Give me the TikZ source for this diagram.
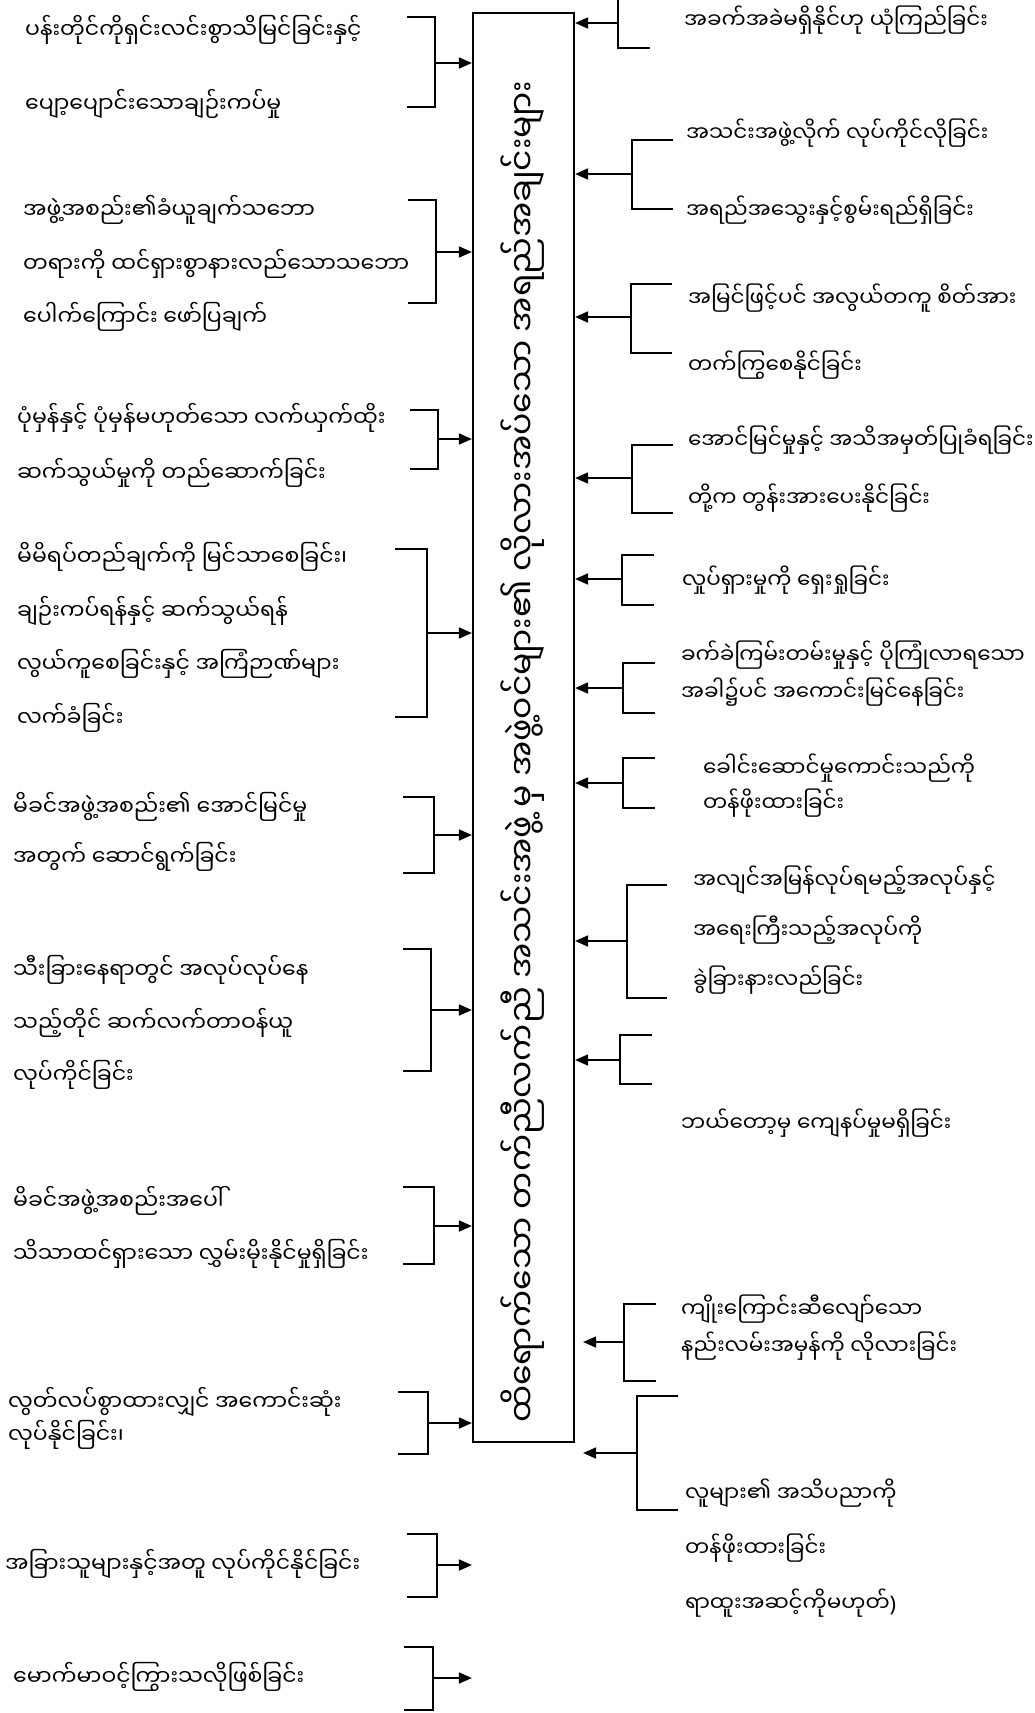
\documentclass[tikz,border=0pt]{standalone}
\usepackage{fontspec}
\newfontfamily\my[Script=Myanmar]{Noto Sans Myanmar UI}
\newfontfamily\lat{Noto Sans}
\usetikzlibrary{arrows.meta}
\tikzset{
  txt/.style={anchor=west, align=left, inner sep=0pt, font=\my\fontsize{22}{#1}\selectfont},
  rtxt/.style={anchor=west, align=left, inner sep=0pt, font=\my\fontsize{21.5}{#1}\selectfont},
  brk/.style={line width=1.8pt},
  arr/.style={line width=1.8pt, -{Triangle[length=13pt,width=11pt]}},
  titlebox/.style={draw, line width=2.2pt, minimum width=101pt, minimum height=1429pt, inner sep=0pt},
  titletxt/.style={rotate=90, inner sep=0pt, font=\my\fontsize{33}{38}\selectfont},
}
\begin{document}
\begin{tikzpicture}[x=1pt,y=-1pt]
\useasboundingbox (0,0) rectangle (1034,1713);
\clip (0,0) rectangle (1034,1713);
\fill[white] (0,0) rectangle (1034,1713);

% central box
\node[titlebox] (box) at (523.5,727.5) {};
\node[titletxt] (title) at (523,752) {ထိရောက်သော တက်ညီလက်ညီ အသင်းအဖွဲ့ မှ အဖွဲ့ဝင်များ၏ လိုလားအပ်သော အရည်အချင်းများ};

% left texts
\node[txt=74] (l1) at (25,67) {ပန်းတိုင်ကိုရှင်းလင်းစွာသိမြင်ခြင်းနှင့်\\ပျော့ပျောင်းသောချဉ်းကပ်မှု};
\node[txt=53.5] (l2) at (23,263.5) {အဖွဲ့အစည်း၏ခံယူချက်သဘော\\တရားကို ထင်ရှားစွာနားလည်သောသဘော\\ပေါက်ကြောင်း ဖော်ပြချက်};
\node[txt=55] (l3) at (17,445.5) {ပုံမှန်နှင့် ပုံမှန်မဟုတ်သော လက်ယှက်ထိုး\\ဆက်သွယ်မှုကို တည်ဆောက်ခြင်း};
\node[txt=53.7] (l4) at (17,637.5) {မိမိရပ်တည်ချက်ကို မြင်သာစေခြင်း၊\\ချဉ်းကပ်ရန်နှင့် ဆက်သွယ်ရန်\\လွယ်ကူစေခြင်းနှင့် အကြံဉာဏ်များ\\လက်ခံခြင်း};
\node[txt=50] (l5) at (13,832) {မိခင်အဖွဲ့အစည်း၏ အောင်မြင်မှု\\အတွက် ဆောင်ရွက်ခြင်း};
\node[txt=52.5] (l6) at (13,1022.5) {သီးခြားနေရာတွင် အလုပ်လုပ်နေ\\သည့်တိုင် ဆက်လက်တာဝန်ယူ\\လုပ်ကိုင်ခြင်း};
\node[txt=53] (l7) at (13,1227.5) {မိခင်အဖွဲ့အစည်းအပေါ်\\သိသာထင်ရှားသော လွှမ်းမိုးနိုင်မှုရှိခြင်း};
\node[txt=33] (l8) at (8,1418) {လွတ်လပ်စွာထားလျှင် အကောင်းဆုံး\\လုပ်နိုင်ခြင်း၊};
\node[txt=20] (l9) at (5,1564) {အခြားသူများနှင့်အတူ လုပ်ကိုင်နိုင်ခြင်း};
\node[txt=20] (l10) at (13,1677) {မောက်မာဝင့်ကြွားသလိုဖြစ်ခြင်း};

% right texts
\node[rtxt=20] (r1) at (684,20) {အခက်အခဲမရှိနိုင်ဟု ယုံကြည်ခြင်း};
\node[rtxt=77] (r2) at (686,171.5) {အသင်းအဖွဲ့လိုက် လုပ်ကိုင်လိုခြင်း\\အရည်အသွေးနှင့်စွမ်းရည်ရှိခြင်း};
\node[rtxt=67] (r3) at (688,331.5) {အမြင်ဖြင့်ပင် အလွယ်တကူ စိတ်အား\\တက်ကြွစေနိုင်ခြင်း};
\node[rtxt=58] (r4) at (688,469) {အောင်မြင်မှုနှင့် အသိအမှတ်ပြုခံရခြင်း\\တို့က တွန်းအားပေးနိုင်ခြင်း};
\node[rtxt=20] (r5) at (682,580) {လှုပ်ရှားမှုကို ရှေးရှုခြင်း};
\node[rtxt=37] (r6) at (681,673.5) {ခက်ခဲကြမ်းတမ်းမှုနှင့် ပိုကြုံလာရသော\\အခါ၌ပင် အကောင်းမြင်နေခြင်း};
\node[rtxt=35] (r7) at (703,785.5) {ခေါင်းဆောင်မှုကောင်းသည်ကို\\တန်ဖိုးထားခြင်း};
\node[rtxt=50] (r8) at (693,930) {အလျင်အမြန်လုပ်ရမည့်အလုပ်နှင့်\\အရေးကြီးသည့်အလုပ်ကို\\ခွဲခြားနားလည်ခြင်း};
\node[rtxt=20] (r9) at (681,1123) {ဘယ်တော့မှ ကျေနပ်မှုမရှိခြင်း};
\node[rtxt=37] (r10) at (681,1327.5) {ကျိုးကြောင်းဆီလျော်သော\\နည်းလမ်းအမှန်ကို လိုလားခြင်း};
\node[rtxt=55] (r11) at (685,1548) {လူများ၏ အသိပညာကို\\တန်ဖိုးထားခြင်း\\ရာထူးအဆင့်ကိုမဟုတ်{\lat )}};

% left brackets: arm x / vertical x / top / bottom / arrow y / name
\foreach \a/\v/\t/\b/\m/\n in {
  407/435/17/107/63/1, 408/436/200/303/252/2, 410/438/410/469/439/3,
  395/427/549/717/633/4, 403/434/797/873/835/5, 403/431/949/1071/1010/6,
  403/434/1187/1264/1226/7, 398/428/1392/1454/1423/8, 407/437/1534/1597/1565/9,
  404/433/1647/1710/1678/10}{
  \draw[brk] (\a,\t) -- (\v,\t) -- (\v,\b) -- (\a,\b);
  \coordinate (bl\n) at (\v,\m);
  \draw[arr] (bl\n) -- (bl\n -| box.west);
}

% right brackets (arrow tips on the box)
\foreach \a/\v/\t/\b/\m/\n in {
  650/618/-2/48/23/1, 673/632/140/209/174/2, 672/631/284/353/317/3,
  673/632/445/513/478/4, 654/622/555/605/579/5, 655/623/663/713/688/6,
  655/623/758/808/783/7, 667/627/885/998/941/8, 652/620/1035/1084/1060/9}{
  \draw[brk] (\a,\t) -- (\v,\t) -- (\v,\b) -- (\a,\b);
  \coordinate (br\n) at (\v,\m);
  \draw[arr] (br\n) -- (br\n -| box.east);
}
% right brackets whose arrows stop short of the box
\foreach \a/\v/\t/\b/\m/\n in {
  656/624/1304/1381/1342/10, 678/637/1396/1510/1453/11}{
  \draw[brk] (\a,\t) -- (\v,\t) -- (\v,\b) -- (\a,\b);
  \coordinate (br\n) at (\v,\m);
  \draw[arr] (br\n) -- ([xshift=8pt]br\n -| box.east);
}
\end{tikzpicture}
\end{document}
